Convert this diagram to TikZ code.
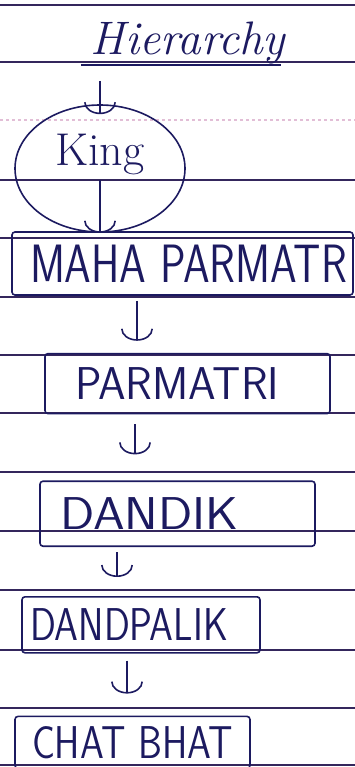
\documentclass[tikz,border=0pt]{standalone}
\usepackage{tikz}
\usetikzlibrary{arrows.meta,positioning,shapes.geometric}
\definecolor{inkblue}{RGB}{28,26,96}
\definecolor{ruleline}{RGB}{52,38,92}
\definecolor{faintrule}{RGB}{226,190,214}
\newcommand{\handcaps}[2][0.85]{\scalebox{#1}[1]{#2}}

\begin{document}
\begin{tikzpicture}[
  x=1pt, y=-1pt,
  box/.style={draw=inkblue,line width=1.6pt,rounded corners=3pt,align=left,
    text=inkblue,font=\sffamily\fontsize{46}{46}\selectfont},
  arrow/.style={-{Arc Barb[length=12pt,width=32pt]},draw=inkblue,line width=1.6pt},
  hand/.style={text=inkblue,inner sep=2pt}
]
\useasboundingbox (0,0) rectangle (355,767);
% notebook rules
\foreach \y in {5,62,180,238,297,355,413,472,531,590,650,708,765}
  \draw[ruleline,line width=1.4pt] (0,\y) -- (355,\y);
\draw[faintrule,line width=1.4pt,dashed] (0,120) -- (355,120);

\node[hand,anchor=base,font=\itshape\fontsize{47}{47}\selectfont] (title) at (188,55) {Hierarchy};
\draw[inkblue,line width=1.6pt] ([xshift=-8pt,yshift=-10pt]title.base west) -- ([xshift=-6pt,yshift=-10pt]title.base east);

\node[ellipse,draw=inkblue,line width=1.6pt,text=inkblue,minimum width=170pt,minimum height=127pt,
  text height=37pt,text depth=42pt,font=\fontsize{46}{46}\selectfont] (king) at (100,168.5) {King};

\node[box,minimum height=63pt,inner xsep=18pt,text width=305pt,
  font=\sffamily\fontsize{54}{54}\selectfont] (maha) at (182.5,263.5) {\handcaps[0.79]{MAHA PARMATR}};
\node[box,minimum height=60pt,inner xsep=30pt,text width=225pt,below=57pt of maha,xshift=5pt] (parmatri) {\handcaps[0.96]{PARMATRI}};
\node[box,minimum height=65pt,inner xsep=20pt,text width=235pt,below=66pt of parmatri,xshift=-10pt] (dandik) {\handcaps[1.1]{DANDIK}};
\node[box,minimum height=56pt,inner xsep=8pt,text width=222pt,below=49pt of dandik,xshift=-36.5pt] (dandpalik) {\handcaps[0.83]{DANDPALIK}};
\node[box,minimum height=52pt,inner xsep=17pt,text width=201pt,below=62pt of dandpalik,xshift=-8.5pt] (chat) {\handcaps[0.83]{CHAT BHAT}};

\draw[arrow,shorten <=14pt] (title.south -| king.north) -- ([yshift=-10pt]king.north);
\draw[arrow] ([yshift=-12pt]king.center) -- (king.south);
\draw[arrow,shorten <=5pt,shorten >=12pt] ([xshift=-45.5pt]maha.south) -- ([xshift=-45.5pt]maha.south |- parmatri.north);
\draw[arrow,shorten <=10pt,shorten >=26pt] ([xshift=-52.5pt]parmatri.south) -- ([xshift=-52.5pt]parmatri.south |- dandik.north);
\draw[arrow,shorten <=5pt,shorten >=19pt] ([xshift=-60.5pt]dandik.south) -- ([xshift=-60.5pt]dandik.south |- dandpalik.north);
\draw[arrow,shorten <=7pt,shorten >=22pt] ([xshift=-14pt]dandpalik.south) -- ([xshift=-14pt]dandpalik.south |- chat.north);
\end{tikzpicture}
\end{document}
